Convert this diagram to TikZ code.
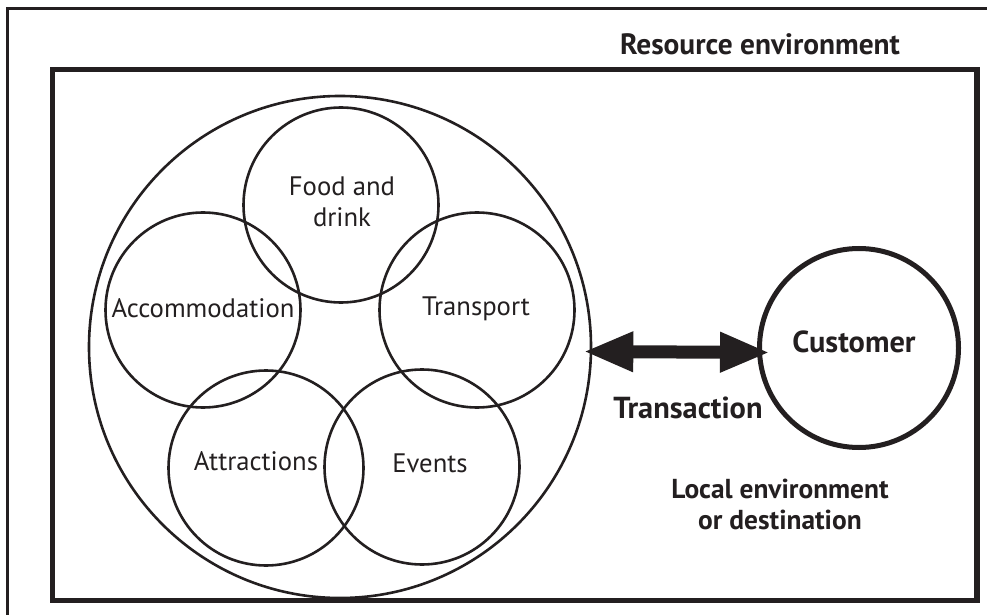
\documentclass[tikz,border=0pt]{standalone}
\usepackage{fontspec}
\setmainfont{PT Sans}
\usepackage{xcolor}
\usetikzlibrary{arrows.meta, positioning}
\definecolor{inkblack}{RGB}{35,31,32}
\tikzset{
    % Sector of the tourism offer (thin circle)
    sector/.style={circle, draw=inkblack, line width=2.6bp,
        minimum size=195bp, inner sep=0pt},
    % Whole offer (large thin circle)
    offer/.style={circle, draw=inkblack, line width=2.6bp,
        minimum size=502bp, inner sep=0pt},
    % Customer (thick circle)
    customer/.style={circle, draw=inkblack, line width=5bp,
        minimum size=199bp, inner sep=0pt},
    % Plain label
    lbl/.style={text=inkblack, font=\fontsize{26.8}{32}\selectfont, anchor=base, align=center, inner sep=0pt},
    % Bold label
    boldlbl/.style={text=inkblack, font=\fontsize{30}{31}\selectfont\bfseries, anchor=base, align=center, inner sep=0pt},
    % Frame lines
    thinframe/.style={draw=inkblack, line width=3bp},
    thickframe/.style={draw=inkblack, line width=5.5bp},
    % Transaction arrow
    transarrow/.style={{Triangle[length=50bp, width=37bp]}-{Triangle[length=50bp, width=37bp]},
        line width=13bp, inkblack},
}
\begin{document}
\begin{tikzpicture}[x=1bp, y=-1bp]
    \useasboundingbox (0,0) rectangle (987,615);
    % frames
    \draw[thinframe] (7.5,615) -- (7.5,8.5) -- (987,8.5);
    \draw[thickframe] (52.5,69.5) rectangle (977,600.5);
    \node[boldlbl, font=\fontsize{29.5}{31}\selectfont\bfseries] (resenv) at (760,55) {Resource environment};
    % the offer and its sectors
    \node[offer] (offer) at (340,347) {};
    \node[sector] (food) at (341,205) {};
    \node[sector] (accom) at (203,310) {};
    \node[sector] (transp) at (477,310) {};
    \node[sector] (attr) at (266,468) {};
    \node[sector] (events) at (422,467) {};
    \node[lbl] (foodlbl) at (342,227) {Food and\\drink};
    \node[lbl] (accomlbl) at (203,317) {Accommodation};
    \node[lbl] (transplbl) at (476,315) {Transport};
    \node[lbl] (attrlbl) at (256,470) {Attractions};
    \node[lbl] (eventslbl) at (430,472) {Events};
    % customer side
    \node[customer] (cust) at (859,348) {};
    \node[boldlbl, font=\fontsize{30.5}{31}\selectfont\bfseries] (custlbl) at (854,352) {Customer};
    \draw[transarrow] ([xshift=-9bp, yshift=-4.5bp]offer.east) -- ([xshift=13bp, yshift=-4.5bp]cust.west);
    \node[boldlbl, font=\fontsize{30.5}{31}\selectfont\bfseries] (translbl) at (688,418) {Transaction};
    \node[boldlbl, font=\fontsize{27.5}{31}\selectfont\bfseries] (locallbl) at (780,529) {Local environment\\or destination};
\end{tikzpicture}
\end{document}
